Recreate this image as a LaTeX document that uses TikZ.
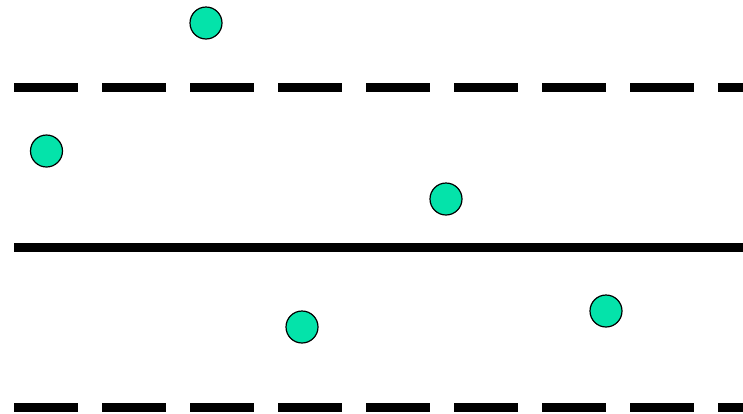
\documentclass[tikz,border=0pt]{standalone}
\definecolor{dotgreen}{RGB}{4,227,170}
\begin{document}
\begin{tikzpicture}[x=1pt, y=-1pt,
		lane/.style={line width=8.4pt, black},
		mark line/.style={lane, dash pattern=on 64pt off 24pt},
		car/.style={circle, draw, line width=1.2pt, fill=dotgreen, minimum size=32pt, inner sep=0pt}]
	\useasboundingbox (0, 0) rectangle (743, 413);
	\draw[mark line] (14, 87.5) -- (743, 87.5);
	\draw[lane] (14, 247.5) -- (743, 247.5);
	\draw[mark line] (14, 407.5) -- (743, 407.5);
	\node[car] (c1) at (206, 23) {};
	\node[car] (c2) at (46.5, 151) {};
	\node[car] (c3) at (446, 199) {};
	\node[car] (c4) at (302, 327) {};
	\node[car] (c5) at (606, 311) {};
\end{tikzpicture}
\end{document}
